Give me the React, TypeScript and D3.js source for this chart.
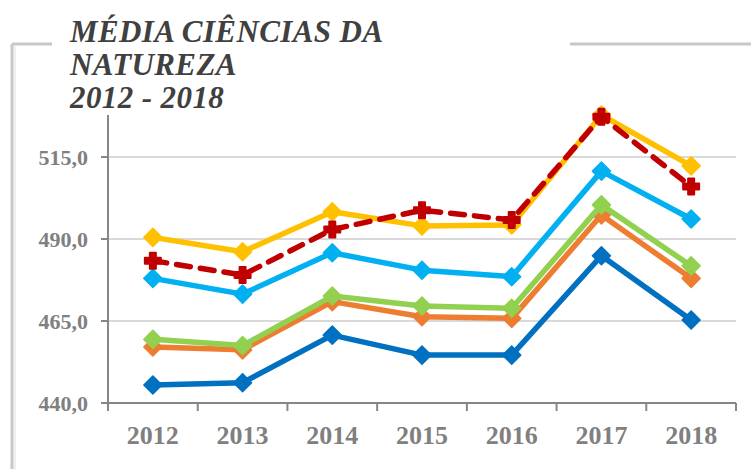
import React from "react";
import * as d3 from "d3";

const years = ["2012", "2013", "2014", "2015", "2016", "2017", "2018"];
const serieAzulEscuro = [445.5, 446.2, 460.7, 454.6, 454.6, 484.9, 465.3];
const serieLaranja = [457.1, 456.2, 470.9, 466.3, 465.8, 497.3, 478.0];
const serieVerde = [459.4, 457.5, 472.6, 469.6, 468.9, 500.4, 481.8];
const serieAzulClaro = [478.0, 473.2, 485.8, 480.5, 478.5, 510.7, 496.1];
const serieAmarela = [490.5, 486.1, 498.3, 494.0, 494.3, 527.8, 512.3];
const serieVermelha = [483.4, 479.0, 492.9, 498.8, 495.8, 527.3, 506.0];
const yTicks = [440, 465, 490, 515];
const titleLines = ["MÉDIA CIÊNCIAS DA", "NATUREZA", "2012 - 2018"];

const series = [
  { values: serieAzulEscuro, color: "#0070C0", marker: "diamond", dashed: false },
  { values: serieLaranja, color: "#ED7D31", marker: "diamond", dashed: false },
  { values: serieVerde, color: "#92D050", marker: "diamond", dashed: false },
  { values: serieAzulClaro, color: "#00B0F0", marker: "diamond", dashed: false },
  { values: serieAmarela, color: "#FFC000", marker: "diamond", dashed: false },
  { values: serieVermelha, color: "#C00000", marker: "plus", dashed: true },
];

export default function App() {
  const W = 751;
  const H = 469;
  const x = d3.scaleBand<string>().domain(years).range([108, 736]);
  const y = d3.scaleLinear().domain([440, 515]).range([403, 157]);
  const cx = (i: number) => (x(years[i]) as number) + x.bandwidth() / 2;
  const line = d3
    .line<number>()
    .x((_, i) => cx(i))
    .y((v) => y(v));
  const plotTop = y(527.8);
  const font = "'Liberation Serif', 'Times New Roman', serif";

  const diamond = (px: number, py: number, r: number) =>
    `M${px},${py - r}L${px + r},${py}L${px},${py + r}L${px - r},${py}Z`;
  const plus = (px: number, py: number, a: number, t: number) =>
    `M${px - t},${py - a}H${px + t}V${py - t}H${px + a}V${py + t}H${px + t}V${py + a}H${px - t}V${py + t}H${px - a}V${py - t}H${px - t}Z`;

  return (
    <svg
      width={W}
      height={H}
      style={{ position: "absolute", left: 0, top: 0, background: "#fff" }}
    >
      {/* frame */}
      <g stroke="#c8c8c8" strokeWidth={3} fill="none">
        <line x1={12} y1={44} x2={52} y2={44} />
        <line x1={570} y1={44} x2={W} y2={44} />
        <line x1={12} y1={44} x2={12} y2={H} />
      </g>
      <line x1={15} y1={46} x2={15} y2={H} stroke="#efefef" strokeWidth={2} />

      {/* gridlines */}
      {yTicks
        .filter((t) => t !== 440)
        .map((t) => (
          <line key={t} x1={108} x2={736} y1={y(t)} y2={y(t)} stroke="#d9d9d9" strokeWidth={2} />
        ))}

      {/* axes */}
      <g stroke="#868686" strokeWidth={2}>
        <line x1={108} y1={plotTop} x2={108} y2={y(440)} />
        <line x1={108} y1={y(440)} x2={736} y2={y(440)} />
        {yTicks.map((t) => (
          <line key={t} x1={101} x2={108} y1={y(t)} y2={y(t)} />
        ))}
        {years.map((yr) => (
          <line key={yr} x1={x(yr) as number} x2={x(yr) as number} y1={y(440)} y2={y(440) + 8} />
        ))}
        <line x1={736} x2={736} y1={y(440)} y2={y(440) + 8} />
      </g>

      {/* tick labels */}
      {yTicks.map((t) => (
        <text
          key={t}
          x={88}
          y={y(t) + 7.5}
          textAnchor="end"
          fontFamily={font}
          fontWeight="bold"
          fontSize={22}
          fill="#808080"
        >
          {d3.format(".1f")(t).replace(".", ",")}
        </text>
      ))}
      {years.map((yr, i) => (
        <text
          key={yr}
          x={cx(i)}
          y={444}
          textAnchor="middle"
          fontFamily={font}
          fontWeight="bold"
          fontSize={26}
          fill="#808080"
        >
          {yr}
        </text>
      ))}

      {/* series */}
      {series.map((s, k) => (
        <g key={k}>
          <path
            d={line(s.values) as string}
            fill="none"
            stroke={s.color}
            strokeWidth={5.5}
            strokeLinejoin="round"
            strokeLinecap={s.dashed ? "round" : "butt"}
            strokeDasharray={s.dashed ? "14 10" : undefined}
          />
          {s.values.map((v, i) =>
            s.marker === "diamond" ? (
              <path key={i} d={diamond(cx(i), y(v), 9)} fill={s.color} stroke={s.color} strokeWidth={1.5} strokeLinejoin="round" />
            ) : (
              <path key={i} d={plus(cx(i), y(v), 8, 3)} fill={s.color} stroke={s.color} strokeWidth={2} strokeLinejoin="round" />
            )
          )}
        </g>
      ))}

      {/* title */}
      {titleLines.map((t, i) => (
        <text
          key={i}
          x={70}
          y={42 + i * 33}
          fontFamily={font}
          fontWeight="bold"
          fontStyle="italic"
          fontSize={31}
          letterSpacing={0.4}
          fill="#404040"
        >
          {t}
        </text>
      ))}
    </svg>
  );
}
